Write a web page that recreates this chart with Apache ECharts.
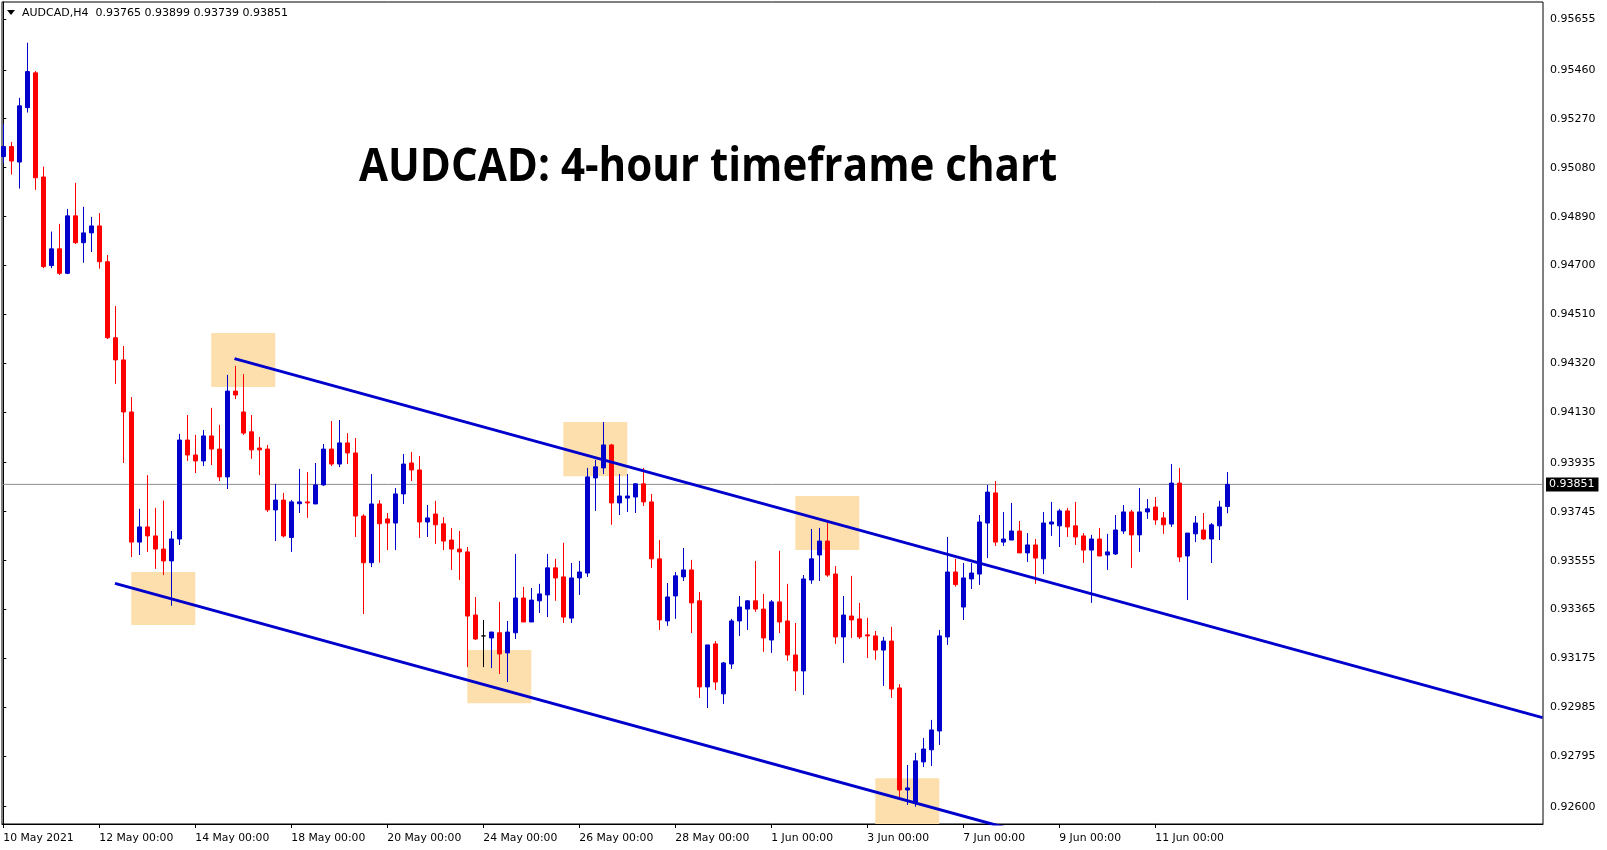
<!DOCTYPE html>
<html>
<head>
<meta charset="utf-8">
<script src="https://cdn.jsdelivr.net/npm/echarts@6/dist/echarts.min.js"></script>
<style>
html,body{margin:0;padding:0;background:#fff;}
#chart{width:1607px;height:850px;}
</style>
</head>
<body>
<div id="chart"></div>
<script>
// ---------- data ----------
const symbolName = 'AUDCAD';
const timeframe = 'H4';
const chartTitle = 'AUDCAD: 4-hour timeframe chart';

const opens = [
0.95123,0.95162,0.95102,0.95313,0.95448,0.95044,0.94700,0.94765,0.94670,0.94893,
0.94789,0.94827,0.94854,0.94715,0.94420,0.94334,0.94132,0.93627,0.93686,0.93651,
0.93600,0.93554,0.93639,0.94023,0.93965,0.93942,0.94039,0.93988,0.93880,0.94213,
0.94132,0.94055,0.93992,0.93988,0.93752,0.93790,0.93645,0.93776,0.93783,0.93775,
0.93849,0.93988,0.93930,0.94012,0.93973,0.93728,0.93547,0.93775,0.93717,0.93701,
0.93814,0.93934,0.93907,0.93705,0.93736,0.93698,0.93635,0.93600,0.93589,0.93344,
0.93263,0.93255,0.93275,0.93197,0.93275,0.93410,0.93317,0.93399,0.93422,0.93527,
0.93492,0.93332,0.93488,0.93507,0.93876,0.93915,0.94004,0.93779,0.93798,0.93802,
0.93853,0.93783,0.93562,0.93321,0.93418,0.93492,0.93519,0.93399,0.93065,0.93232,
0.93038,0.93154,0.93321,0.93367,0.93399,0.93367,0.93247,0.93395,0.93321,0.93189,
0.93127,0.93480,0.93577,0.93631,0.93503,0.93259,0.93340,0.93329,0.93267,0.93263,
0.93208,0.93243,0.93061,0.92665,0.92615,0.92774,0.92821,0.92894,0.93259,0.93511,
0.93375,0.93484,0.93503,0.93701,0.93818,0.93627,0.93635,0.93670,0.93585,0.93616,
0.93562,0.93697,0.93690,0.93748,0.93690,0.93651,0.93596,0.93639,0.93577,0.93581,
0.93670,0.93744,0.93655,0.93744,0.93763,0.93721,0.93697,0.93856,0.93573,0.93659,
0.93674,0.93639,0.93690,0.93765
];
const highs = [
0.95250,0.95180,0.95351,0.95565,0.95455,0.95084,0.94832,0.94862,0.94920,0.95021,
0.94928,0.94889,0.94904,0.94741,0.94543,0.94388,0.94190,0.93756,0.93887,0.93760,
0.93788,0.93670,0.94047,0.94120,0.94043,0.94062,0.94148,0.94082,0.94276,0.94311,
0.94279,0.94120,0.94035,0.94004,0.93853,0.93818,0.93790,0.93911,0.93899,0.93934,
0.94008,0.94097,0.94101,0.94050,0.94031,0.93735,0.93891,0.93790,0.93740,0.93837,
0.93969,0.93977,0.93961,0.93771,0.93787,0.93724,0.93682,0.93670,0.93608,0.93414,
0.93325,0.93278,0.93395,0.93321,0.93581,0.93453,0.93449,0.93465,0.93581,0.93562,
0.93624,0.93546,0.93554,0.93915,0.93946,0.94093,0.94008,0.93891,0.93891,0.93856,
0.93915,0.93814,0.93635,0.93468,0.93511,0.93604,0.93558,0.93433,0.93228,0.93243,
0.93162,0.93329,0.93418,0.93402,0.93554,0.93426,0.93402,0.93593,0.93465,0.93313,
0.93499,0.93678,0.93682,0.93713,0.93534,0.93418,0.93496,0.93391,0.93333,0.93282,
0.93259,0.93298,0.93076,0.92762,0.92809,0.92867,0.92937,0.93286,0.93647,0.93562,
0.93546,0.93546,0.93732,0.93849,0.93864,0.93744,0.93779,0.93709,0.93662,0.93639,
0.93744,0.93783,0.93756,0.93760,0.93783,0.93662,0.93655,0.93682,0.93659,0.93732,
0.93771,0.93752,0.93837,0.93794,0.93802,0.93744,0.93930,0.93915,0.93662,0.93728,
0.93740,0.93701,0.93787,0.93899
];
const lows = [
0.95097,0.95053,0.94999,0.95294,0.94994,0.94690,0.94690,0.94664,0.94667,0.94784,
0.94711,0.94753,0.94688,0.94415,0.94241,0.93934,0.93569,0.93577,0.93589,0.93523,
0.93499,0.93380,0.93616,0.93942,0.93895,0.93922,0.93926,0.93864,0.93833,0.94182,
0.94043,0.93950,0.93887,0.93744,0.93631,0.93645,0.93589,0.93740,0.93721,0.93775,
0.93845,0.93922,0.93918,0.93930,0.93647,0.93348,0.93530,0.93547,0.93596,0.93596,
0.93775,0.93864,0.93643,0.93647,0.93620,0.93596,0.93519,0.93480,0.93142,0.93247,
0.93142,0.93138,0.93115,0.93084,0.93251,0.93317,0.93317,0.93352,0.93336,0.93399,
0.93313,0.93313,0.93422,0.93492,0.93748,0.93891,0.93694,0.93732,0.93744,0.93740,
0.93767,0.93527,0.93286,0.93302,0.93329,0.93476,0.93274,0.93022,0.92983,0.93053,
0.92999,0.93135,0.93263,0.93286,0.93356,0.93201,0.93197,0.93274,0.93166,0.93049,
0.93034,0.93465,0.93476,0.93492,0.93232,0.93158,0.93255,0.93251,0.93177,0.93170,
0.93069,0.93022,0.92634,0.92607,0.92600,0.92754,0.92758,0.92840,0.93228,0.93454,
0.93325,0.93445,0.93461,0.93565,0.93612,0.93612,0.93635,0.93585,0.93550,0.93465,
0.93503,0.93651,0.93608,0.93647,0.93616,0.93546,0.93391,0.93573,0.93519,0.93577,
0.93659,0.93527,0.93589,0.93717,0.93694,0.93659,0.93686,0.93550,0.93402,0.93627,
0.93635,0.93546,0.93635,0.93739
];
const closes = [
0.95162,0.95106,0.95320,0.95453,0.95041,0.94696,0.94765,0.94670,0.94893,0.94789,
0.94827,0.94854,0.94715,0.94420,0.94334,0.94132,0.93627,0.93686,0.93651,0.93600,
0.93554,0.93639,0.94023,0.93965,0.93942,0.94039,0.93988,0.93880,0.94213,0.94198,
0.94050,0.93985,0.93985,0.93752,0.93790,0.93651,0.93783,0.93783,0.93779,0.93849,
0.93988,0.93930,0.94012,0.93973,0.93728,0.93547,0.93775,0.93698,0.93701,0.93814,
0.93930,0.93907,0.93705,0.93721,0.93694,0.93631,0.93600,0.93589,0.93340,0.93251,
0.93263,0.93278,0.93193,0.93278,0.93410,0.93317,0.93402,0.93426,0.93527,0.93488,
0.93336,0.93488,0.93511,0.93880,0.93919,0.94004,0.93779,0.93806,0.93806,0.93853,
0.93783,0.93562,0.93325,0.93414,0.93496,0.93519,0.93391,0.93065,0.93228,0.93084,
0.93158,0.93321,0.93375,0.93399,0.93367,0.93255,0.93395,0.93317,0.93189,0.93127,
0.93484,0.93562,0.93631,0.93499,0.93259,0.93344,0.93325,0.93259,0.93263,0.93208,
0.93243,0.93057,0.92665,0.92673,0.92778,0.92824,0.92898,0.93263,0.93511,0.93462,
0.93488,0.93507,0.93705,0.93821,0.93627,0.93639,0.93670,0.93585,0.93616,0.93565,
0.93701,0.93705,0.93748,0.93686,0.93647,0.93596,0.93639,0.93573,0.93589,0.93674,
0.93744,0.93655,0.93744,0.93756,0.93713,0.93694,0.93856,0.93569,0.93662,0.93701,
0.93639,0.93694,0.93763,0.93851
];

// time-axis labels (bar index -> label)
const tickIndex  = [0,12,24,36,48,60,72,84,96,108,120,132,144];
const tickLabels = ['10 May 2021','12 May 00:00','14 May 00:00','18 May 00:00','20 May 00:00',
  '24 May 00:00','26 May 00:00','28 May 00:00','1 Jun 00:00','3 Jun 00:00','7 Jun 00:00',
  '9 Jun 00:00','11 Jun 00:00'];

// price-axis labels
const priceTicks = [0.95655,0.95460,0.95270,0.95080,0.94890,0.94700,0.94510,0.94320,0.94130,
  0.93935,0.93745,0.93555,0.93365,0.93175,0.92985,0.92795,0.92600];

// channel trendlines: [barIndex, price] anchors
const upperChannel = [[28.9,0.94339],[192.4,0.92946]];
const lowerChannel = [[13.96,0.93467],[192.4,0.91947]];

// highlighted zones: [fromBar, toBar, topPrice, bottomPrice]
const zoneFrom   = [26, 16, 58, 70, 99, 109];
const zoneTo     = [34, 24, 66, 78, 107, 117];
const zoneTop    = [0.94438,0.93511,0.93208,0.94093,0.93806,0.92711];
const zoneBottom = [0.94229,0.93305,0.93002,0.93883,0.93596,0.92533];

// visible window
const xMin = -0.1625, xMax = 192.46;
const yMin = 0.92533, yMax = 0.95723;

// ---------- chart ----------
const BULL = '#0000cd', BEAR = '#ff0000';
const lastIdx = closes.length - 1;
const lastClose = closes[lastIdx];

const candleData = opens.map((o, i) => {
  const item = { value: [i, o, closes[i], lows[i], highs[i]] };
  if (o === closes[i]) {
    item.itemStyle = { color: '#000', color0: '#000', borderColor: '#000', borderColor0: '#000' };
  }
  return item;
});

const zones = zoneFrom.map((f, i) => [
  { coord: [f, zoneTop[i]] },
  { coord: [zoneTo[i], zoneBottom[i]] }
]);

const fmt = v => v.toFixed(5);
const legendText = symbolName + ',' + timeframe + '  ' +
  [opens[lastIdx], highs[lastIdx], lows[lastIdx], closes[lastIdx]].map(fmt).join(' ');

const chart = echarts.init(document.getElementById('chart'), null, { renderer: 'canvas' });

const option = {
  animation: false,
  backgroundColor: '#fff',
  grid: { left: 2, right: 64, top: 2, bottom: 26, show: true, borderColor: '#000', borderWidth: 1, backgroundColor: '#fff' },
  xAxis: {
    type: 'value', min: xMin, max: xMax,
    axisLine: { show: true, lineStyle: { color: '#000', width: 1 } },
    axisTick: { show: true, customValues: tickIndex, length: 4, lineStyle: { color: '#000' } },
    axisLabel: {
      customValues: tickIndex,
      formatter: v => { const k = tickIndex.indexOf(Math.round(v)); return k >= 0 ? tickLabels[k] : ''; },
      align: 'left', fontFamily: 'DejaVu Sans', fontSize: 10.8, color: '#000', margin: 9
    },
    splitLine: { show: false }
  },
  yAxis: {
    type: 'value', position: 'right', min: yMin, max: yMax,
    axisLine: { show: true, lineStyle: { color: '#000', width: 1 } },
    axisTick: { show: true, customValues: priceTicks, length: 3, lineStyle: { color: '#000' } },
    axisLabel: {
      customValues: priceTicks, formatter: v => v.toFixed(5),
      fontFamily: 'DejaVu Sans', fontSize: 11, color: '#000', margin: 7
    },
    splitLine: { show: false }
  },
  series: [
    {
      type: 'line', name: 'zones', data: [], z: 1, silent: true,
      markArea: { silent: true, itemStyle: { color: '#fddfad' }, data: zones }
    },
    {
      type: 'line', name: 'price line', z: 2, silent: true, symbol: 'none',
      data: [[xMin, lastClose], [xMax, lastClose]],
      lineStyle: { color: '#8c8c8c', width: 1 },
      endLabel: {
        show: true, formatter: () => fmt(lastClose), distance: 3,
        backgroundColor: '#000', color: '#fff', fontFamily: 'DejaVu Sans', fontSize: 11,
        padding: [2, 4, 1, 3]
      }
    },
    {
      type: 'candlestick', name: symbolName, z: 3,
      data: candleData,
      encode: { x: 0, y: [1, 2, 3, 4] },
      barWidth: 4,
      itemStyle: { color: BULL, color0: BEAR, borderColor: BULL, borderColor0: BEAR, borderWidth: 1 }
    },
    {
      type: 'line', name: 'upper channel', data: upperChannel, z: 5, silent: true,
      symbol: 'none', lineStyle: { color: BULL, width: 3 }
    },
    {
      type: 'line', name: 'lower channel', data: lowerChannel, z: 5, silent: true,
      symbol: 'none', lineStyle: { color: BULL, width: 3 }
    }
  ],
  graphic: [
    { type: 'polygon', shape: { points: [[7, 10], [15, 10], [11, 15]] }, style: { fill: '#000' }, z: 10 },
    { type: 'text', x: 22, y: 13, z: 10,
      style: { text: legendText, fontFamily: 'DejaVu Sans', fontSize: 11, fill: '#000',
               verticalAlign: 'middle', textVerticalAlign: 'middle' } },
    { type: 'text', x: 359, y: 167.5, scaleX: 0.915, z: 10,
      style: { text: chartTitle, fontFamily: 'Open Sans', fontWeight: 'bold', fontSize: 46, fill: '#000',
               verticalAlign: 'middle', textVerticalAlign: 'middle' } }
  ]
};
chart.setOption(option);
</script>
</body>
</html>
